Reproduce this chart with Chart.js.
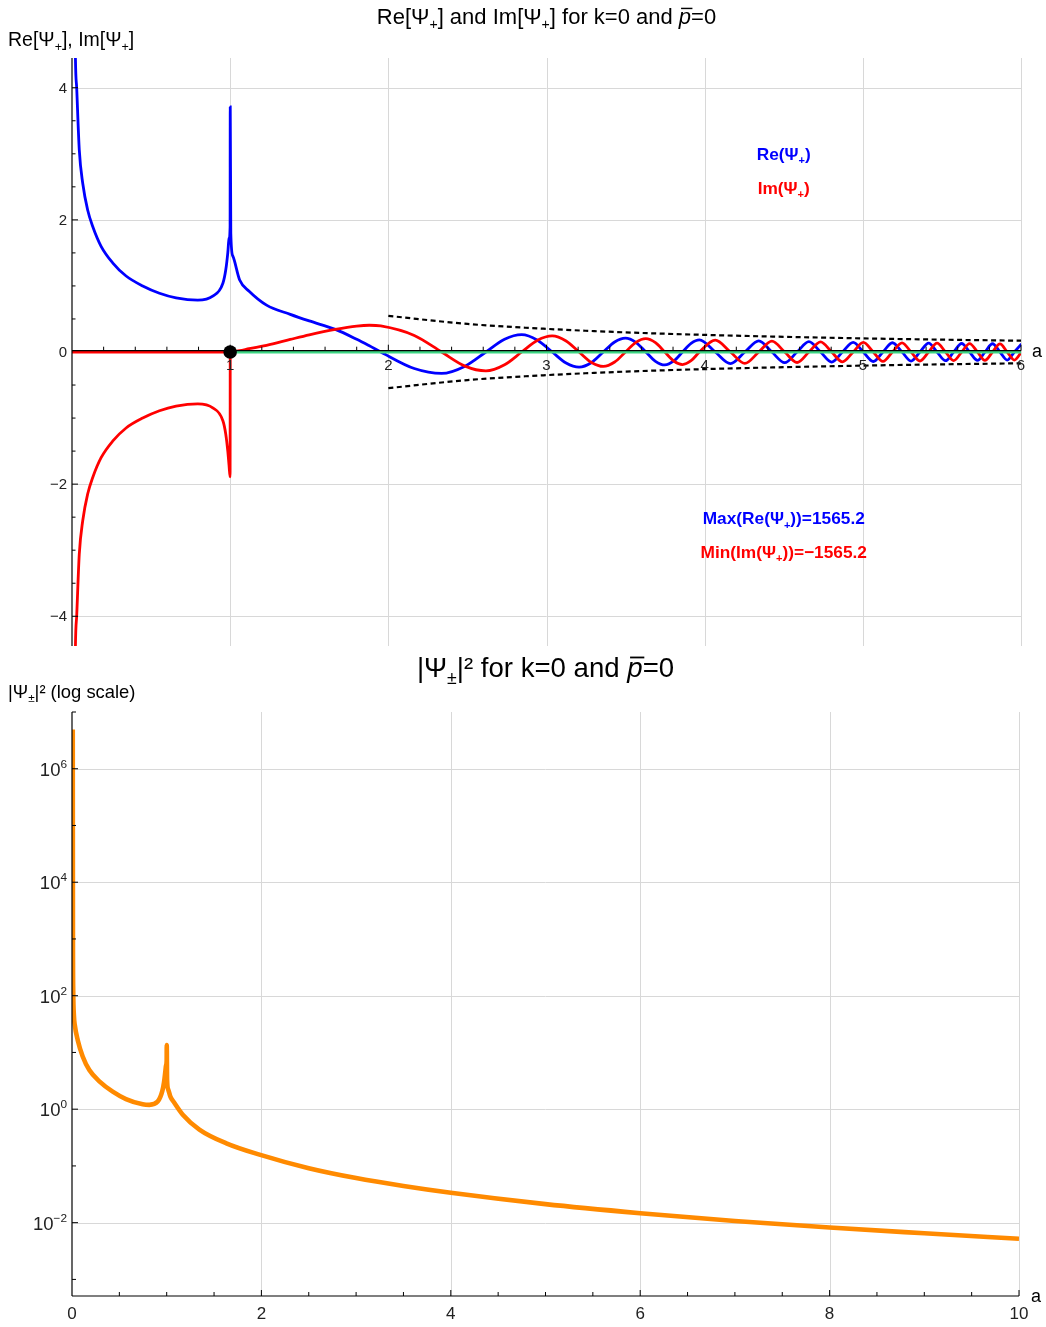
<!DOCTYPE html>
<html>
<head>
<meta charset="utf-8">
<script src="https://cdn.jsdelivr.net/npm/chart.js@4.4.1/dist/chart.umd.min.js"></script>
<style>
  body { margin: 0; background: #fff; }
  #wrap { position: relative; width: 1046px; height: 1327px; }
  canvas { position: absolute; left: 0; }
  #topChart { top: 0; }
  #bottomChart { top: 648px; }
</style>
</head>
<body>
<div id="wrap">
  <canvas id="topChart" width="1046" height="648"></canvas>
  <canvas id="bottomChart" width="1046" height="679"></canvas>
</div>
<script>
// ---- top panel: Re and Im of Psi+ against a ----
const aTop = [0.012, 0.021, 0.03, 0.046, 0.068, 0.099, 0.131, 0.184, 0.257, 0.342, 0.447, 0.553, 0.658, 0.795, 0.89, 0.954, 0.972, 0.985, 0.993, 0.9995,
  1.0005, 1.004, 1.017, 1.06, 1.12, 1.23, 1.38, 1.5, 1.665, 1.80, 1.88, 1.952, 2.164, 2.337, 2.485, 2.617, 2.735, 2.843, 2.943, 3.036, 3.124,
  3.206, 3.285, 3.359, 3.431, 3.499, 3.565, 3.628, 3.689, 3.748, 3.805, 3.860, 3.914, 3.967, 4.067, 4.163, 4.254, 4.342, 4.425, 4.506,
  4.584, 4.659, 4.733, 4.803, 4.871, 4.939, 5.003, 5.066, 5.127, 5.187, 5.248, 5.305, 5.361, 5.416, 5.469, 5.523, 5.574, 5.625, 5.675,
  5.725, 5.772, 5.820, 5.867, 5.913, 5.958, 6.003];
const rePsi = [7.5, 4.56, 3.98, 3.06, 2.55, 2.15, 1.90, 1.60, 1.35, 1.15, 1.0, 0.89, 0.82, 0.785, 0.845, 1.04, 1.24, 1.50, 1.72, 1.89,
  3.71, 1.80, 1.45, 1.09, 0.92, 0.71, 0.57, 0.47, 0.342, 0.192, 0.093, 0.0, -0.250, -0.324, -0.214, 0.0, 0.193, 0.262, 0.178, 0.0, -0.167,
  -0.230, -0.159, 0.0, 0.152, 0.210, 0.146, 0.0, -0.141, -0.196, -0.136, 0.0, 0.132, 0.185, 0.0, -0.176, 0.0, 0.168, 0.0, -0.162,
  0.0, 0.156, 0.0, -0.152, 0.0, 0.147, 0.0, -0.144, 0.0, 0.140, 0.0, -0.137, 0.0, 0.134, 0.0, -0.132, 0.0, 0.129, 0.0,
  -0.127, 0.0, 0.125, 0.0, -0.123, 0.0, 0.121];
const imPsi = [-7.5, -4.56, -3.98, -3.06, -2.55, -2.15, -1.90, -1.60, -1.35, -1.15, -1.0, -0.89, -0.82, -0.785, -0.845, -1.04, -1.24, -1.50, -1.72, -1.89,
  0.0, 0.0, 0.005, 0.02, 0.05, 0.10, 0.19, 0.26, 0.342, 0.392, 0.405, 0.394, 0.250, 0.0, -0.214, -0.286, -0.193, 0.0, 0.178, 0.244, 0.167,
  0.0, -0.159, -0.219, -0.152, 0.0, 0.146, 0.202, 0.141, 0.0, -0.136, -0.190, -0.132, 0.0, 0.180, 0.0, -0.172, 0.0, 0.165, 0.0,
  -0.159, 0.0, 0.154, 0.0, -0.149, 0.0, 0.145, 0.0, -0.142, 0.0, 0.139, 0.0, -0.136, 0.0, 0.133, 0.0, -0.130, 0.0, 0.128,
  0.0, -0.126, 0.0, 0.124, 0.0, -0.122, 0.0];

// dashed envelope
const envA = [2, 2.5, 3, 3.5, 4, 4.5, 5, 5.5, 6];
const envUpper = [0.547, 0.425, 0.35, 0.297, 0.259, 0.23, 0.206, 0.187, 0.171];
const envLower = [-0.547, -0.425, -0.35, -0.297, -0.259, -0.23, -0.206, -0.187, -0.171];

// flat pieces on the axis and the turning point
const zeroLeftA = [0, 1];
const zeroLeftV = [0, 0];
const zeroRightA = [1, 6];
const zeroRightV = [0, 0];
const turnA = [1];
const turnV = [0];

const maxRe = 1565.2;
const minIm = -1565.2;

// ---- bottom panel: |Psi|^2, log scale ----
const aBottom = [0.008, 0.01, 0.013, 0.02, 0.03, 0.06, 0.113, 0.183, 0.289, 0.43, 0.57, 0.746, 0.817, 0.905, 0.954, 0.972, 0.985, 0.993, 0.9995,
  1.0005, 1.004, 1.017, 1.04, 1.08, 1.17, 1.345, 1.63, 1.98, 2.5, 3.0, 3.5, 4.0, 5.0, 6.0, 7.0, 8.0, 9.0, 10.0];
const psiSq = [4.9e6, 1000, 120, 45, 30, 16.6, 8.5, 4.9, 3.1, 2.04, 1.51, 1.22, 1.19, 1.36, 2.1, 3.0, 4.5, 5.9, 7.1,
  13.5, 3.3, 2.2, 1.65, 1.3, 0.8, 0.437, 0.25, 0.158, 0.091, 0.061, 0.0443, 0.0336, 0.0212, 0.0147, 0.0107, 0.0082, 0.0065, 0.0052];

// tick labels
const topXTicks = [1, 2, 3, 4, 5, 6];
const topYTicks = [-4, -2, 0, 2, 4];
const bottomXTicks = [0, 2, 4, 6, 8, 10];
const bottomYExp = [-2, 0, 2, 4, 6];

const FONT = '"Liberation Sans", Arial, Helvetica, sans-serif';
const GRID = '#d8d8d8';

function pts(xs, ys) { return xs.map((v, i) => ({ x: v, y: ys[i] })); }

function line(ctx, x1, y1, x2, y2) {
  ctx.beginPath(); ctx.moveTo(x1, y1); ctx.lineTo(x2, y2); ctx.stroke();
}

// text with subscripts, superscripts and overbars
function rich(ctx, parts, x, y, size, opt) {
  opt = opt || {};
  const weight = opt.bold ? 'bold ' : '';
  const list = parts.map(p => typeof p === 'string' ? { t: p } : Object.assign({}, p));
  let total = 0;
  list.forEach(p => {
    p.size = (p.sub || p.sup) ? size * 0.64 : size;
    p.font = (p.it ? 'italic ' : '') + weight + p.size + 'px ' + FONT;
    ctx.font = p.font;
    p.w = ctx.measureText(p.t).width;
    total += p.w;
  });
  let cx = opt.align === 'center' ? x - total / 2 : opt.align === 'right' ? x - total : x;
  ctx.fillStyle = opt.color || '#000';
  ctx.textAlign = 'left';
  ctx.textBaseline = 'alphabetic';
  list.forEach(p => {
    ctx.font = p.font;
    const dy = p.sub ? size * 0.24 : p.sup ? -size * 0.42 : 0;
    ctx.fillText(p.t, cx, y + dy);
    if (p.bar) ctx.fillRect(cx + size * 0.1, y - size * 0.74, p.w - size * 0.04, Math.max(1, size * 0.065));
    cx += p.w;
  });
}

const sub = t => ({ t: t, sub: true });
const sup = t => ({ t: t, sup: true });
const pbar = { t: 'p', it: true, bar: true };

const topDecor = {
  id: 'topDecor',
  beforeDatasetsDraw(chart) {
    const { ctx, chartArea: ca, scales: { x, y } } = chart;
    ctx.save();
    ctx.strokeStyle = GRID;
    ctx.lineWidth = 1;
    topXTicks.forEach(v => { const px = Math.round(x.getPixelForValue(v)) + 0.5; line(ctx, px, ca.top, px, ca.bottom); });
    topYTicks.filter(v => v !== 0).forEach(v => { const py = Math.round(y.getPixelForValue(v)) + 0.5; line(ctx, ca.left, py, ca.right, py); });
    ctx.restore();
  },
  afterDatasetsDraw(chart) {
    const { ctx, chartArea: ca, scales: { x, y } } = chart;
    const x0 = x.getPixelForValue(0);
    const y0 = y.getPixelForValue(0);
    ctx.save();
    ctx.strokeStyle = '#000';
    ctx.lineWidth = 1.2;
    line(ctx, x0, ca.top, x0, ca.bottom);
    line(ctx, ca.left, y0 - 1.3, ca.right, y0 - 1.3);
    // x ticks every 0.2, y ticks every 0.5
    ctx.lineWidth = 1;
    for (let i = 1; i <= 30; i++) {
      const px = x.getPixelForValue(i * 0.2);
      line(ctx, px, y0 - 1.3, px, y0 - 1.3 - (i % 5 === 0 ? 6 : 4));
    }
    for (let i = -8; i <= 8; i++) {
      if (i === 0) continue;
      const py = y.getPixelForValue(i * 0.5);
      line(ctx, x0, py, x0 + (i % 4 === 0 ? 6 : 3.5), py);
    }
    ctx.fillStyle = '#222';
    ctx.font = '15px ' + FONT;
    ctx.textAlign = 'center';
    ctx.textBaseline = 'alphabetic';
    topXTicks.forEach(v => ctx.fillText(String(v), x.getPixelForValue(v), y0 + 18));
    ctx.textAlign = 'right';
    topYTicks.forEach(v => ctx.fillText(v < 0 ? '\u2212' + (-v) : String(v), x0 - 5, y.getPixelForValue(v) + 5));
    ctx.textAlign = 'left';
    ctx.font = '18px ' + FONT;
    ctx.fillStyle = '#000';
    ctx.fillText('a', ca.right + 11, y0 + 5);

    rich(ctx, ['Re[\u03A8', sub('+'), '] and Im[\u03A8', sub('+'), '] for k=0 and ', pbar, '=0'],
      (ca.left + ca.right) / 2, 24, 22, { align: 'center' });
    rich(ctx, ['Re[\u03A8', sub('+'), '], Im[\u03A8', sub('+'), ']'], 8, 46, 19.5);

    const ax = x.getPixelForValue(4.5);
    const bold = { align: 'center', bold: true };
    rich(ctx, ['Re(\u03A8', sub('+'), ')'], ax, y.getPixelForValue(3.0) + 6, 17.3, Object.assign({ color: '#0000ff' }, bold));
    rich(ctx, ['Im(\u03A8', sub('+'), ')'], ax, y.getPixelForValue(2.48) + 6, 17.3, Object.assign({ color: '#ff0000' }, bold));
    rich(ctx, ['Max(Re(\u03A8', sub('+'), '))=' + maxRe.toFixed(1)], ax, y.getPixelForValue(-2.52) + 6, 17.3,
      Object.assign({ color: '#0000ff' }, bold));
    rich(ctx, ['Min(Im(\u03A8', sub('+'), '))=\u2212' + Math.abs(minIm).toFixed(1)], ax, y.getPixelForValue(-3.02) + 6, 17.3,
      Object.assign({ color: '#ff0000' }, bold));
    ctx.restore();
  }
};

const bottomDecor = {
  id: 'bottomDecor',
  beforeDatasetsDraw(chart) {
    const { ctx, chartArea: ca, scales: { x, y } } = chart;
    ctx.save();
    ctx.strokeStyle = GRID;
    ctx.lineWidth = 1;
    bottomXTicks.filter(v => v !== 0).forEach(v => { const px = Math.round(x.getPixelForValue(v)) + 0.5; line(ctx, px, ca.top, px, ca.bottom); });
    bottomYExp.forEach(e => { const py = Math.round(y.getPixelForValue(Math.pow(10, e))) + 0.5; line(ctx, ca.left, py, ca.right, py); });
    ctx.restore();
  },
  afterDatasetsDraw(chart) {
    const { ctx, chartArea: ca, scales: { x, y } } = chart;
    const x0 = ca.left;
    const yb = ca.bottom;
    ctx.save();
    ctx.strokeStyle = '#000';
    ctx.lineWidth = 1.2;
    line(ctx, x0, ca.top, x0, yb);
    line(ctx, x0, yb, ca.right, yb);
    ctx.lineWidth = 1;
    for (let i = 1; i <= 20; i++) {
      const px = x.getPixelForValue(i * 0.5);
      line(ctx, px, yb, px, yb - (i % 4 === 0 ? 6 : 4));
    }
    for (let e = -3; e <= 7; e++) {
      const py = y.getPixelForValue(Math.pow(10, e));
      line(ctx, x0, py, x0 + (e % 2 === 0 ? 6 : 4), py);
    }
    ctx.fillStyle = '#222';
    ctx.font = '17px ' + FONT;
    ctx.textAlign = 'center';
    ctx.textBaseline = 'alphabetic';
    bottomXTicks.forEach(v => ctx.fillText(String(v), x.getPixelForValue(v), yb + 23));
    bottomYExp.forEach(e => {
      rich(ctx, ['10', sup(e < 0 ? '\u2212' + (-e) : String(e))], x0 - 5, y.getPixelForValue(Math.pow(10, e)) + 7, 18.5,
        { align: 'right', color: '#222' });
    });
    ctx.fillStyle = '#000';
    ctx.textAlign = 'left';
    ctx.font = '18px ' + FONT;
    ctx.fillText('a', ca.right + 12, yb + 6);

    rich(ctx, ['|\u03A8', sub('\u00B1'), '|\u00B2 for k=0 and ', pbar, '=0'], (ca.left + ca.right) / 2, 29, 27.6, { align: 'center' });
    rich(ctx, ['|\u03A8', sub('\u00B1'), '|\u00B2 (log scale)'], 8, 50, 18.4);
    ctx.restore();
  }
};

new Chart(document.getElementById('topChart').getContext('2d'), {
  type: 'line',
  data: {
    datasets: [
      { data: pts(turnA, turnV), showLine: false, pointRadius: 6.8, pointBackgroundColor: '#000', pointBorderWidth: 0, order: 0 },
      { data: pts(zeroRightA, zeroRightV), borderColor: '#3dd683', borderWidth: 3, order: 1 },
      { data: pts(zeroLeftA, zeroLeftV), borderColor: '#ff0000', borderWidth: 3, order: 1 },
      { data: pts(envA, envUpper), borderColor: '#000', borderWidth: 2.2, borderDash: [5, 3.5], order: 2 },
      { data: pts(envA, envLower), borderColor: '#000', borderWidth: 2.2, borderDash: [5, 3.5], order: 2 },
      { data: pts(aTop, imPsi), borderColor: '#ff0000', borderWidth: 2.8, order: 3 },
      { data: pts(aTop, rePsi), borderColor: '#0000ff', borderWidth: 2.8, order: 4 }
    ]
  },
  options: {
    responsive: false,
    animation: false,
    events: [],
    layout: { autoPadding: false, padding: { left: 72, right: 25, top: 58, bottom: 2 } },
    elements: { point: { radius: 0 }, line: { cubicInterpolationMode: 'monotone', fill: false } },
    plugins: { legend: { display: false }, tooltip: { enabled: false } },
    scales: {
      x: { type: 'linear', min: 0, max: 6, display: false },
      y: { type: 'linear', min: -4.45, max: 4.45, display: false }
    }
  },
  plugins: [topDecor]
});

new Chart(document.getElementById('bottomChart').getContext('2d'), {
  type: 'line',
  data: {
    datasets: [
      { data: pts(aBottom, psiSq), borderColor: '#ff8a00', borderWidth: 4.6 }
    ]
  },
  options: {
    responsive: false,
    animation: false,
    events: [],
    layout: { autoPadding: false, padding: { left: 72, right: 27, top: 64, bottom: 31 } },
    elements: { point: { radius: 0 }, line: { cubicInterpolationMode: 'monotone', fill: false } },
    plugins: { legend: { display: false }, tooltip: { enabled: false } },
    scales: {
      x: { type: 'linear', min: 0, max: 10, display: false },
      y: { type: 'logarithmic', min: 5.1e-4, max: 1e7, display: false }
    }
  },
  plugins: [bottomDecor]
});
</script>
</body>
</html>
